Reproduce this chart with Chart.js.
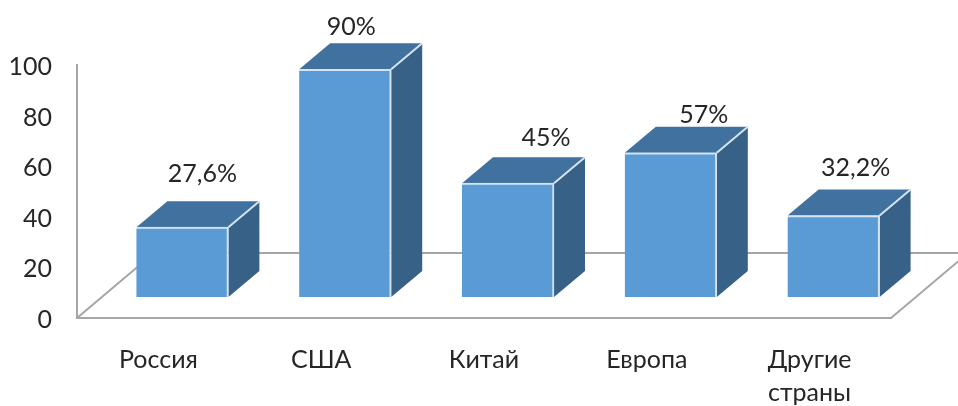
<!DOCTYPE html>
<html>
<head>
<meta charset="utf-8">
<style>
    html, body { margin: 0; padding: 0; background: #ffffff; }
    canvas { display: block; }
</style>
<script src="https://cdn.jsdelivr.net/npm/chart.js@4"></script>
</head>
<body>
<canvas id="regionChart" width="958" height="406"></canvas>
<script>
// Data
const categories = ['Россия', 'США', 'Китай', 'Европа', ['Другие', 'страны']];
const shares = [27.6, 90, 45, 57, 32.2];
const shareLabels = ['27,6%', '90%', '45%', '57%', '32,2%'];
const tickValues = [0, 20, 40, 60, 80, 100];

// The labels were placed by hand in the original, so each one has its own nudge
const labelNudgeX = [20, 6, 38, 33, 22];
const labelNudgeY = [-53, -42, -45, -38, -48];

// Fake 3D: bars stand in a plane pushed back from the axes, and have this depth
const planeX = 24;
const planeY = -21;
const depthX = 31;
const depthY = -26;

const textColor = '#262626';
const fontFamily = 'Lato, "Noto Sans", sans-serif';
const axisColor = '#a6a6a6';

const bars3d = {
    id: 'bars3d',
    beforeDatasetsDraw(chart) {
        const ctx = chart.ctx;
        const area = chart.chartArea;

        // Floor: two slanted edges and the back edge
        const floorDx = 77;
        const floorDy = -65;
        ctx.save();
        ctx.strokeStyle = axisColor;
        ctx.lineWidth = 2;
        ctx.beginPath();
        ctx.moveTo(area.left, area.bottom);
        ctx.lineTo(area.left + floorDx, area.bottom + floorDy);
        ctx.lineTo(area.right + floorDx, area.bottom + floorDy);
        ctx.lineTo(area.right, area.bottom);
        ctx.stroke();
        ctx.restore();

        // Stays translated until afterDatasetsDraw so the bars land in the pushed back plane
        ctx.save();
        ctx.translate(planeX, planeY);

        chart.getDatasetMeta(0).data.forEach(bar => {
            const left = bar.x - bar.width / 2;
            const right = bar.x + bar.width / 2;

            // Top face
            ctx.fillStyle = '#41729f';
            ctx.beginPath();
            ctx.moveTo(left, bar.y);
            ctx.lineTo(left + depthX, bar.y + depthY);
            ctx.lineTo(right + depthX, bar.y + depthY);
            ctx.lineTo(right, bar.y);
            ctx.closePath();
            ctx.fill();

            // Side face
            ctx.fillStyle = '#376186';
            ctx.beginPath();
            ctx.moveTo(right, bar.y);
            ctx.lineTo(right + depthX, bar.y + depthY);
            ctx.lineTo(right + depthX, bar.base + depthY);
            ctx.lineTo(right, bar.base);
            ctx.closePath();
            ctx.fill();

            // Pale edge between top and side
            ctx.strokeStyle = '#d4e4f2';
            ctx.lineWidth = 2;
            ctx.beginPath();
            ctx.moveTo(right, bar.y);
            ctx.lineTo(right + depthX, bar.y + depthY);
            ctx.stroke();
        });
    },
    afterDatasetsDraw(chart) {
        const ctx = chart.ctx;
        ctx.restore();

        // Value labels above the bars
        ctx.save();
        ctx.fillStyle = textColor;
        ctx.font = '25px ' + fontFamily;
        ctx.textAlign = 'center';
        ctx.textBaseline = 'middle';
        chart.getDatasetMeta(0).data.forEach((bar, i) => {
            ctx.fillText(shareLabels[i], bar.x + planeX + labelNudgeX[i], bar.y + planeY + labelNudgeY[i]);
        });
        ctx.restore();
    }
};

const ctx = document.getElementById('regionChart').getContext('2d');
const regionChart = new Chart(ctx, {
    type: 'bar',
    data: {
        labels: categories,
        datasets: [{
            data: shares,
            backgroundColor: '#5b9bd5',
            borderColor: '#d4e4f2',
            borderWidth: { top: 2, right: 2, left: 0, bottom: 0 },
            borderSkipped: false,
            barThickness: 92,
            clip: false
        }]
    },
    options: {
        responsive: false,
        animation: false,
        layout: {
            padding: { top: 65, right: 67, left: 0, bottom: 0 }
        },
        plugins: {
            legend: { display: false },
            tooltip: { enabled: false }
        },
        scales: {
            x: {
                afterFit(scale) { scale.height = 88; },
                grid: { display: false, drawTicks: false },
                border: { color: axisColor, width: 2 },
                ticks: {
                    color: textColor,
                    font: { family: fontFamily, size: 25, lineHeight: 1.3 },
                    maxRotation: 0,
                    padding: 26
                }
            },
            y: {
                min: 0,
                max: 100,
                afterFit(scale) { scale.width = 77; },
                afterBuildTicks(scale) { scale.ticks = tickValues.map(value => ({ value })); },
                grid: { display: false, drawTicks: false },
                border: { color: axisColor, width: 2 },
                ticks: {
                    color: textColor,
                    font: { family: fontFamily, size: 25 },
                    padding: 25,
                    labelOffset: 2
                }
            }
        }
    },
    plugins: [bars3d]
});
</script>
</body>
</html>
